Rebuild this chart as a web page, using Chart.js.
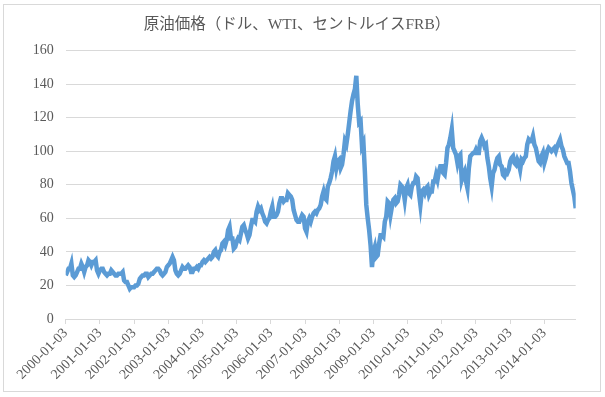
<!DOCTYPE html>
<html>
<head>
<meta charset="utf-8">
<script src="https://cdn.jsdelivr.net/npm/chart.js@4"></script>
<style>
  body { margin: 0; background: #fff; }
  #wrap { position: relative; width: 605px; height: 397px; }
  #frame { position: absolute; left: 3px; top: 4px; width: 596px; height: 386px; border: 1px solid #d9d9d9; }
  canvas { position: absolute; left: 0; top: 0; }
</style>
</head>
<body>
<div id="wrap">
  <div id="frame"></div>
  <canvas id="js-chart" width="605" height="397"></canvas>
</div>
<script>
'use strict';
const title = '原油価格（ドル、WTI、セントルイスFRB）';
const tickLabels = ['2000-01-03', '2001-01-03', '2002-01-03', '2003-01-03', '2004-01-03',
  '2005-01-03', '2006-01-03', '2007-01-03', '2008-01-03', '2009-01-03',
  '2010-01-03', '2011-01-03', '2012-01-03', '2013-01-03', '2014-01-03'];

// WTI price, two readings per month (1st half, 2nd half)
const y2000 = [26, 28, 30, 30, 33, 26, 25, 26, 28, 30, 30, 33, 31, 28, 31, 32, 35, 34, 32, 34, 34, 35, 29, 27];
const y2001 = [29, 30, 30, 28, 27, 26, 27, 27, 29, 28, 27, 26, 26, 27, 27, 27, 28, 23, 22, 22, 20, 18, 19, 19];
const y2002 = [19, 20, 20, 21, 24, 25, 26, 26, 27, 27, 25, 26, 27, 27, 28, 29, 30, 30, 29, 27, 26, 27, 28, 31];
const y2003 = [32, 33, 35, 37, 35, 29, 27, 26, 27, 29, 31, 30, 30, 31, 32, 31, 28, 28, 30, 30, 31, 30, 32, 32];
const y2004 = [34, 35, 34, 35, 36, 37, 36, 37, 40, 41, 38, 37, 40, 41, 45, 46, 44, 47, 53, 55, 48, 48, 42, 43];
const y2005 = [46, 48, 47, 51, 55, 56, 53, 51, 48, 50, 55, 59, 59, 58, 64, 67, 65, 66, 63, 61, 58, 57, 59, 60];
const y2006 = [64, 67, 61, 61, 62, 64, 69, 72, 72, 70, 71, 71, 75, 74, 73, 71, 65, 62, 59, 58, 58, 60, 62, 61];
const y2007 = [54, 52, 58, 60, 58, 61, 63, 64, 63, 65, 66, 68, 73, 76, 72, 71, 79, 81, 84, 88, 94, 97, 90, 94];
const y2008 = [95, 90, 92, 98, 106, 104, 110, 117, 124, 130, 134, 137, 145, 128, 117, 118, 103, 105, 88, 68, 60, 53, 44, 31];
const y2009 = [40, 43, 37, 38, 45, 50, 50, 49, 58, 61, 70, 69, 62, 67, 71, 72, 69, 70, 74, 80, 79, 77, 71, 78];
const y2010 = [80, 75, 74, 79, 81, 81, 85, 84, 75, 68, 76, 77, 75, 78, 79, 74, 76, 76, 82, 82, 86, 83, 88, 91];
const y2011 = [91, 87, 86, 93, 102, 104, 108, 113, 102, 100, 98, 93, 97, 98, 83, 86, 88, 82, 78, 90, 97, 98, 99, 99];
const y2012 = [101, 99, 99, 106, 108, 106, 103, 104, 96, 91, 84, 79, 87, 89, 93, 96, 97, 92, 91, 86, 85, 88, 87, 89];
const y2013 = [94, 96, 97, 93, 92, 95, 93, 89, 95, 94, 96, 97, 104, 107, 106, 106, 109, 104, 102, 98, 94, 93, 97, 99];
const y2014 = [93, 96, 100, 102, 101, 100, 101, 102, 100, 103, 105, 107, 103, 101, 97, 95, 93, 93, 88, 81, 77, 73, 66];

const years = [y2000, y2001, y2002, y2003, y2004, y2005, y2006, y2007,
  y2008, y2009, y2010, y2011, y2012, y2013, y2014];

let points = [];
years.forEach(function(arr, k) {
  arr.forEach(function(v, i) {
    points.push({ x: 2000 + k + i / 24, y: v });
  });
});

const labelColor = '#595959';
const gridColor = '#d9d9d9';
const fontFamily = '"Liberation Serif", "Noto Sans CJK JP", serif';

let ctx = document.getElementById('js-chart').getContext('2d');
let myChart = new Chart(ctx, {
  type: 'line',
  data: {
    datasets: [
      {
        label: 'WTI',
        data: points,
        borderColor: '#5b9bd5',
        backgroundColor: 'rgba(0,0,0,0)',
        borderWidth: 4.5,
        pointRadius: 0,
        tension: 0
      }
    ]
  },
  options: {
    responsive: false,
    animation: false,
    layout: { padding: { left: 18.3, right: 29.3, top: 0, bottom: 0 } },
    plugins: {
      legend: { display: false },
      tooltip: { enabled: false },
      title: {
        display: true,
        text: title,
        color: labelColor,
        font: { family: fontFamily, size: 15.5, weight: 'normal' },
        padding: { top: 16, bottom: 16 }
      }
    },
    scales: {
      x: {
        type: 'linear',
        min: 2000,
        max: 2014 + 22 / 24,
        afterBuildTicks: function(scale) {
          scale.ticks = tickLabels.map(function(s) {
            return { value: parseInt(s.slice(0, 4)) };
          });
        },
        afterFit: function(scale) {
          scale.height = 78;
        },
        ticks: {
          autoSkip: false,
          minRotation: 45,
          maxRotation: 45,
          padding: 1,
          color: labelColor,
          font: { family: fontFamily, size: 14 },
          callback: function(value, index) {
            return tickLabels[index];
          }
        },
        grid: {
          drawOnChartArea: false,
          drawTicks: true,
          tickLength: 5,
          color: gridColor
        },
        border: { color: gridColor }
      },
      y: {
        min: 0,
        max: 160,
        afterFit: function(scale) {
          scale.width = 47.4;
        },
        ticks: {
          stepSize: 20,
          padding: 12,
          color: labelColor,
          font: { family: fontFamily, size: 14 }
        },
        grid: {
          color: gridColor,
          drawTicks: false
        },
        border: { display: false }
      }
    }
  }
});
</script>
</body>
</html>
